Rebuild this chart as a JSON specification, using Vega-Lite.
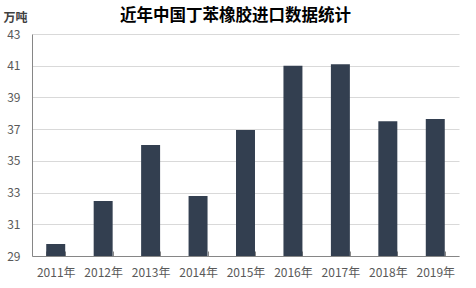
{
  "$schema": "https://vega.github.io/schema/vega-lite/v6.json",
  "autosize": {"type": "none"},
  "width": 427,
  "height": 222,
  "padding": {"left": 32, "top": 34, "right": 17, "bottom": 32},
  "background": "white",
  "title": {
    "text": "近年中国丁苯橡胶进口数据统计",
    "font": "Noto Sans CJK SC",
    "fontSize": 16.5,
    "fontWeight": "bold",
    "color": "#000000",
    "anchor": "middle",
    "frame": "group",
    "dx": -10,
    "offset": -13
  },
  "data": {
    "values": [
      {"year": "2011年", "value": 29.76},
      {"year": "2012年", "value": 32.47},
      {"year": "2013年", "value": 36.0},
      {"year": "2014年", "value": 32.78},
      {"year": "2015年", "value": 36.94},
      {"year": "2016年", "value": 41.0},
      {"year": "2017年", "value": 41.1},
      {"year": "2018年", "value": 37.5},
      {"year": "2019年", "value": 37.64}
    ]
  },
  "mark": {"type": "bar", "color": "#333F50", "clip": true},
  "encoding": {
    "x": {
      "field": "year",
      "type": "nominal",
      "sort": null,
      "scale": {"paddingInner": 0.6, "paddingOuter": 0.3},
      "axis": {
        "title": null,
        "labelAngle": 0,
        "labelFont": "Noto Sans CJK SC",
        "labelFontSize": 12,
        "labelColor": "#595959",
        "labelPadding": 16,
        "domainColor": "#868686",
        "tickColor": "#868686",
        "tickBand": "extent",
        "tickSize": -5,
        "grid": false
      }
    },
    "y": {
      "field": "value",
      "type": "quantitative",
      "scale": {"domain": [29, 43], "nice": false, "zero": false},
      "axis": {
        "values": [29, 31, 33, 35, 37, 39, 41, 43],
        "title": "万吨",
        "titleAngle": 0,
        "titleAlign": "left",
        "titleBaseline": "middle",
        "titleX": -29,
        "titleY": -17,
        "titleFont": "Noto Sans CJK SC",
        "titleFontSize": 12,
        "titleFontWeight": "bold",
        "titleColor": "#404040",
        "labelFont": "Noto Sans CJK SC",
        "labelFontSize": 12,
        "labelColor": "#595959",
        "labelPadding": 12,
        "ticks": false,
        "domainColor": "#868686",
        "gridColor": "#d9d9d9",
        "gridWidth": 1
      }
    }
  },
  "config": {"view": {"stroke": null}}
}
